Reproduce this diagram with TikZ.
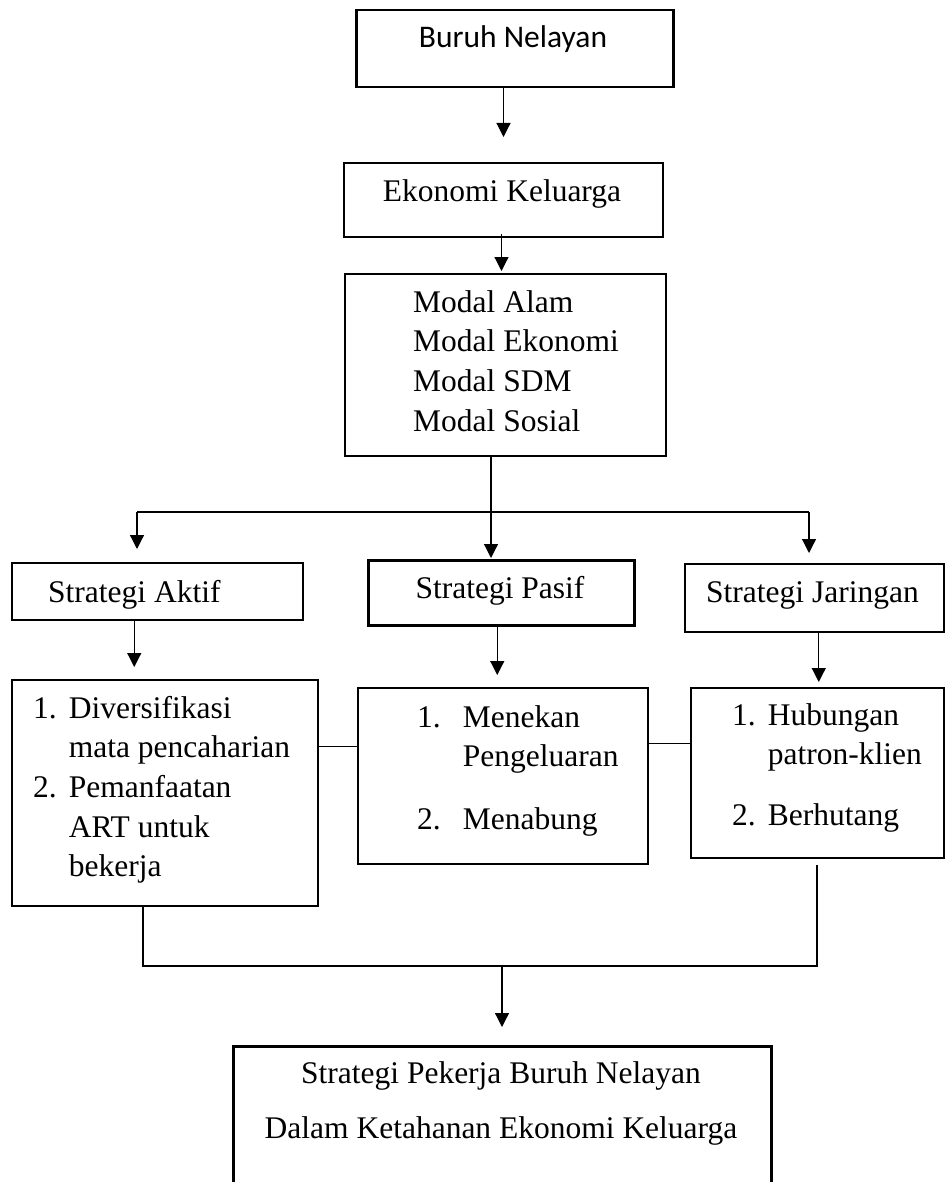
\documentclass[tikz,border=0pt]{standalone}
\usepackage{fontspec}
\setmainfont{Liberation Serif}
\newfontfamily\calibri{Carlito}
\usetikzlibrary{arrows.meta}

\begin{document}
\begin{tikzpicture}[x=1pt,y=-1pt,
  box/.style={draw,line width=1.5pt,anchor=north west,inner sep=0pt},
  heavy/.style={box,line width=2.5pt},
  lbl/.style={inner sep=0pt,font=\fontsize{31.5}{39.7}\selectfont},
  arr/.style={line width=1.2pt,-{Triangle[length=14pt,width=14pt]}},
  conn/.style={line width=1.2pt}]
\clip (0,0) rectangle (945,1182);

% boxes
\node[heavy, minimum width=317pt, minimum height=77pt] (buruh) at (355,9) {};
\node[box, line width=2pt, minimum width=319pt, minimum height=74pt] (ekonomi) at (343,162) {};
\node[box, line width=2pt, minimum width=321pt, minimum height=182pt] (modal) at (344,273) {};
\node[box, minimum width=291pt, minimum height=57pt] (aktif) at (11,562) {};
\node[heavy, minimum width=266pt, minimum height=65pt] (pasif) at (367,559) {};
\node[box, minimum width=259pt, minimum height=68pt] (jaringan) at (684,563) {};
\node[box, minimum width=306pt, minimum height=226pt] (list1) at (11,679) {};
\node[box, minimum width=290pt, minimum height=176pt] (list2) at (357,687) {};
\node[box, minimum width=253pt, minimum height=170pt] (list3) at (690,687) {};
\node[heavy, minimum width=538pt, minimum height=160pt] (goal) at (232,1045) {};

% texts
\node[lbl, font=\fontsize{31.5}{39.7}\calibri, anchor=base] (buruhtext) at (513,48) {Buruh Nelayan};
\node[lbl, anchor=base] (ekonomitext) at (502,202) {Ekonomi Keluarga};
\node[lbl, anchor=base west] (modaltext) at (413,312)
  {\begin{tabular}[t]{@{}l@{}}Modal Alam\\Modal Ekonomi\\Modal SDM\\Modal Sosial\end{tabular}};
\node[lbl, anchor=base west] (aktiftext) at (48,602) {Strategi Aktif};
\node[lbl, anchor=base] (pasiftext) at (500,598) {Strategi Pasif};
\node[lbl, anchor=base west] (jaringantext) at (706,602) {Strategi Jaringan};
\node[lbl, anchor=base west] (list1text) at (33,718)
  {\begin{tabular}[t]{@{}l@{\hspace{12pt}}l@{}}
   1. & Diversifikasi\\ & mata pencaharian\\
   2. & Pemanfaatan\\ & ART untuk\\ & bekerja\end{tabular}};
\node[lbl, anchor=base west] (list2text) at (417,727)
  {\begin{tabular}[t]{@{}l@{\hspace{22pt}}l@{}}
   1. & Menekan\\ & Pengeluaran\\[23pt]
   2. & Menabung\end{tabular}};
\node[lbl, anchor=base west] (list3text) at (732,725)
  {\begin{tabular}[t]{@{}l@{\hspace{12pt}}l@{}}
   1. & Hubungan\\ & patron-klien\\[21pt]
   2. & Berhutang\end{tabular}};
\node[lbl, anchor=base] (goaltexta) at (501,1083) {Strategi Pekerja Buruh Nelayan};
\node[lbl, anchor=base] (goaltextb) at (501,1138) {Dalam Ketahanan Ekonomi Keluarga};

% connectors
\coordinate (split) at (491,512);
\coordinate (splitL) at (137,512);
\coordinate (splitR) at (809,512);
\coordinate (joinL) at (143,966);
\coordinate (joinR) at (817,966);
\coordinate (join) at (502,966);

\draw[arr] (buruh.south -| ekonomi) -- ([yshift=25pt]ekonomi.north);
\draw[arr] ([xshift=-2pt,yshift=4pt]ekonomi.south) -- ([xshift=-2pt,yshift=2pt]ekonomi.south |- modal.north);
\draw[conn] (split |- modal.south) -- (split);
\draw[conn] (splitL) -- (splitR);
\draw[arr] (splitL) -- ([yshift=13pt]splitL |- aktif.north);
\draw[arr] (split) -- ([yshift=1pt]split |- pasif.north);
\draw[arr] (splitR) -- ([yshift=10pt]splitR |- jaringan.north);
\draw[arr] ([xshift=-23pt]aktif.south) -- ([xshift=-23pt,yshift=12pt]aktif.south |- list1.north);
\draw[arr] ([xshift=-4pt]pasif.south) -- ([xshift=-4pt,yshift=12pt]pasif.south |- list2.north);
\draw[arr] ([xshift=4.5pt]jaringan.south) -- ([xshift=4.5pt,yshift=5pt]jaringan.south |- list3.north);
\draw[conn] ([yshift=46pt]list1.east) -- ([yshift=46pt]list1.east -| list2.west);
\draw[conn] ([yshift=32pt]list2.east) -- ([yshift=32pt]list2.east -| list3.west);
\draw[conn] (joinL |- list1.south) -- (joinL) -- (joinR) -- ([yshift=-6pt]joinR |- list3.south);
\draw[arr] (join) -- ([yshift=18pt]join |- goal.north);
\end{tikzpicture}
\end{document}
